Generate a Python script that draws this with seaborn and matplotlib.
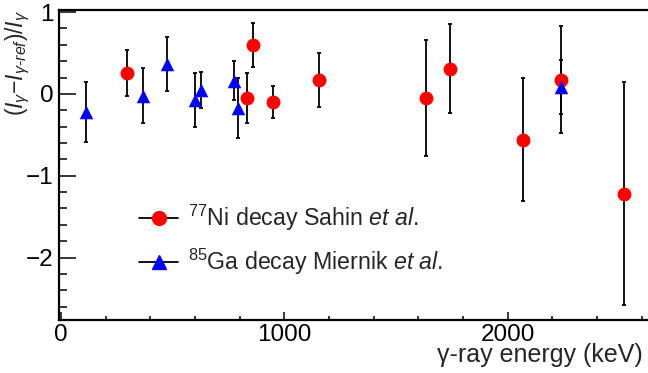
import numpy as np
import pandas as pd
import matplotlib
matplotlib.use("Agg")
import matplotlib.pyplot as plt
from matplotlib.lines import Line2D
from matplotlib.ticker import MultipleLocator
import seaborn as sns

# ---- data ----
ni_energy = [297, 834, 861, 948, 1157, 1636, 1743, 2068, 2239, 2521]
ni_value = [0.26, -0.05, 0.595, -0.10, 0.17, -0.05, 0.31, -0.56, 0.175, -1.22]
ni_error = [0.28, 0.30, 0.27, 0.20, 0.33, 0.71, 0.54, 0.75, 0.65, 1.36]

ga_energy = [112, 368, 475, 600, 628, 775, 791, 2239]
ga_value = [-0.22, -0.02, 0.36, -0.07, 0.05, 0.16, -0.17, 0.08]
ga_error = [0.37, 0.34, 0.33, 0.33, 0.22, 0.24, 0.37, 0.33]

series_labels = [r"$^{77}$Ni decay Sahin $\it{et\ al.}$",
                 r"$^{85}$Ga decay Miernik $\it{et\ al.}$"]
x_ticks = [0, 1000, 2000]
y_ticks = [-2, -1, 0, 1]

sns.set_theme(style="ticks")
plt.rcParams["font.family"] = ["Liberation Sans", "DejaVu Sans"]
plt.rcParams["mathtext.fontset"] = "custom"
plt.rcParams["mathtext.rm"] = "Liberation Sans"
plt.rcParams["mathtext.it"] = "Liberation Sans:italic"
plt.rcParams["mathtext.bf"] = "Liberation Sans:bold"

W, H = 648, 373
fig = plt.figure(figsize=(W / 100, H / 100), dpi=100)
ax = fig.add_axes([59 / W, (H - 320) / H, (W - 59) / W, (320 - 10) / H])

df = pd.DataFrame({
    "energy": ni_energy + ga_energy,
    "value": ni_value + ga_value,
    "series": ["ni"] * len(ni_energy) + ["ga"] * len(ga_energy),
})

# error bars
ax.errorbar(ni_energy, ni_value, yerr=ni_error, fmt="none", ecolor="black",
            elinewidth=1.3, capsize=1.6, capthick=1.3, zorder=2)
ax.errorbar(ga_energy, ga_value, yerr=ga_error, fmt="none", ecolor="black",
            elinewidth=1.3, capsize=1.6, capthick=1.3, zorder=2)

sns.scatterplot(data=df[df.series == "ni"], x="energy", y="value", ax=ax,
                color="#ff0000", marker="o", s=100, linewidth=0, zorder=3,
                legend=False)
sns.scatterplot(data=df[df.series == "ga"], x="energy", y="value", ax=ax,
                color="#0000ff", marker="^", s=95, linewidth=0, zorder=4,
                legend=False)

ax.set_xlim(-8.5, 2628)
ax.set_ylim(-2.763, 1.025)
ax.set_xlabel("")
ax.set_ylabel("")

ax.set_xticks(x_ticks)
ax.set_yticks(y_ticks)
ax.xaxis.set_minor_locator(MultipleLocator(200))
ax.yaxis.set_minor_locator(MultipleLocator(0.2))

ax.tick_params(axis="both", which="both", direction="in", colors="black",
               labelsize=17.5, width=1.1)
ax.tick_params(axis="y", which="major", length=12, pad=4)
ax.tick_params(axis="y", which="minor", length=6)
ax.tick_params(axis="x", which="major", length=6, pad=3)
ax.tick_params(axis="x", which="minor", length=3)

for side in ["left", "bottom", "top"]:
    ax.spines[side].set_linewidth(1.6)
    ax.spines[side].set_color("black")
ax.spines["right"].set_visible(False)

fig.text(643 / W, 1 - 362 / H, "γ-ray energy (keV)", ha="right", va="baseline",
         fontsize=18)
fig.text(18 / W, 1 - 10 / H, r"$(I_{\gamma}{-}I_{\gamma\text{-}ref})/I_{\gamma}$",
         rotation=90, ha="center", va="top", fontsize=16.5)

handles = [
    Line2D([], [], color="black", lw=1.3, marker="o", markersize=10,
           markerfacecolor="#ff0000", markeredgecolor="#ff0000"),
    Line2D([], [], color="black", lw=1.3, marker="^", markersize=9.5,
           markerfacecolor="#0000ff", markeredgecolor="#0000ff"),
]
fig.legend(handles, series_labels, loc="center left",
           bbox_to_anchor=(139 / W, 1 - 240 / H), bbox_transform=fig.transFigure,
           frameon=False, fontsize=16.7, handlelength=1.7, handletextpad=0.4,
           borderpad=0, borderaxespad=0, labelspacing=0.6)

fig.savefig("out.png", dpi=100)
